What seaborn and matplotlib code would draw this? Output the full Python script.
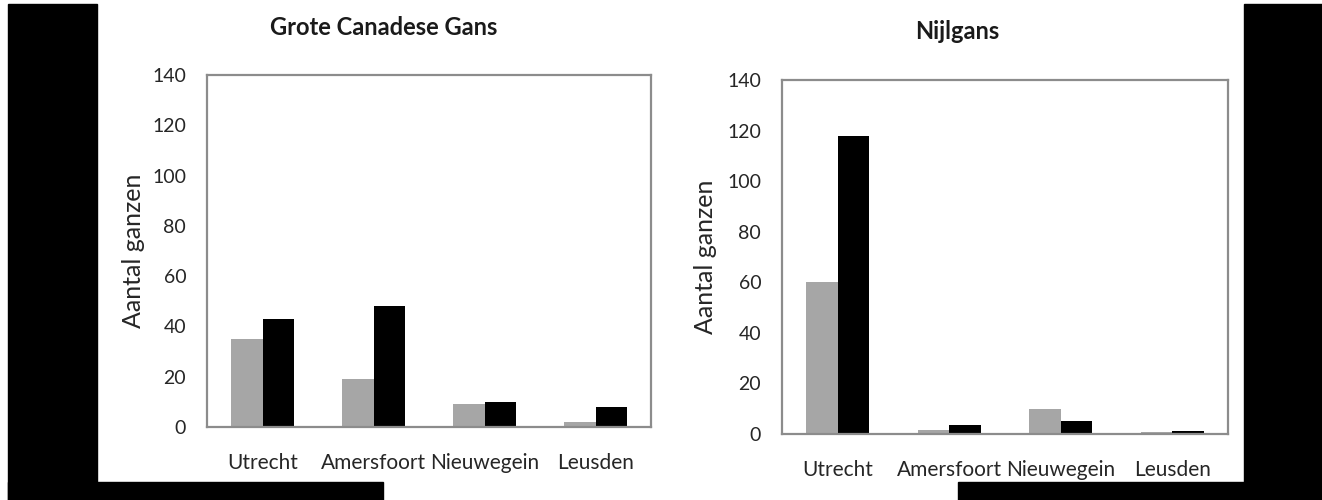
import pandas as pd
import matplotlib
matplotlib.use("Agg")
import matplotlib.pyplot as plt
from matplotlib.patches import Rectangle
import seaborn as sns

# Data
categories = ["Utrecht", "Amersfoort", "Nieuwegein", "Leusden"]
series = ["Serie 1", "Serie 2"]
canadese_grijs = [35, 19, 9, 2]
canadese_zwart = [43, 48, 10, 8]
nijl_grijs = [60, 1.7, 10, 0.7]
nijl_zwart = [118, 3.5, 5, 1]
y_ticks = [0, 20, 40, 60, 80, 100, 120, 140]

sns.set_theme(style="white")
plt.rcParams["font.family"] = ["Lato", "DejaVu Sans"]

W, H = 1322, 500
fig = plt.figure(figsize=(W / 100, H / 100), dpi=100)
fig.patch.set_facecolor("white")


def long_df(grijs, zwart):
    return pd.DataFrame({
        "Plaats": categories * 2,
        "Serie": [series[0]] * len(categories) + [series[1]] * len(categories),
        "Aantal": list(grijs) + list(zwart),
    })


def px_box(x0, y0, x1, y1):
    # pixel box (top-left origin) -> figure fraction rect
    return [x0 / W, 1 - y1 / H, (x1 - x0) / W, (y1 - y0) / H]


def draw(box, df, title, title_x, label_x):
    ax = fig.add_axes(px_box(*box))
    sns.barplot(data=df, x="Plaats", y="Aantal", hue="Serie",
                palette=["#a6a6a6", "#000000"], width=0.565, gap=0,
                linewidth=0, legend=False, ax=ax)
    ax.set_ylim(0, 140)
    ax.set_yticks(y_ticks)
    ax.set_xlim(-0.5, 3.5)
    ax.set_xlabel("")
    ax.set_ylabel("Aantal ganzen", fontsize=18, color="#262626")
    ax.yaxis.set_label_coords(label_x, 0.5)
    ax.tick_params(axis="y", length=0, pad=15, labelsize=14, labelcolor="#262626")
    ax.tick_params(axis="x", length=0, pad=19, labelsize=15, labelcolor="#262626")
    for s in ax.spines.values():
        s.set_visible(True)
        s.set_color("#8c8c8c")
        s.set_linewidth(1.6)
    ax.text(title_x, 1.136, title, transform=ax.transAxes, ha="center",
            va="center", fontsize=17, fontweight="bold", color="#1a1a1a")
    return ax


draw((207, 75, 651, 427), long_df(canadese_grijs, canadese_zwart),
     "Grote Canadese Gans", 0.399, -0.14)
draw((782, 80, 1228, 434), long_df(nijl_grijs, nijl_zwart),
     "Nijlgans", 0.3935, -0.146)

# black matte around the scanned figure
for b in [(8, 4, 97, 500), (8, 482, 383, 500),
          (1244, 4, 1322, 500), (958, 482, 1322, 500)]:
    r = px_box(*b)
    fig.patches.append(Rectangle(r[:2], r[2], r[3], transform=fig.transFigure,
                                 color="black", zorder=-1))

fig.savefig("out.png", dpi=100)
